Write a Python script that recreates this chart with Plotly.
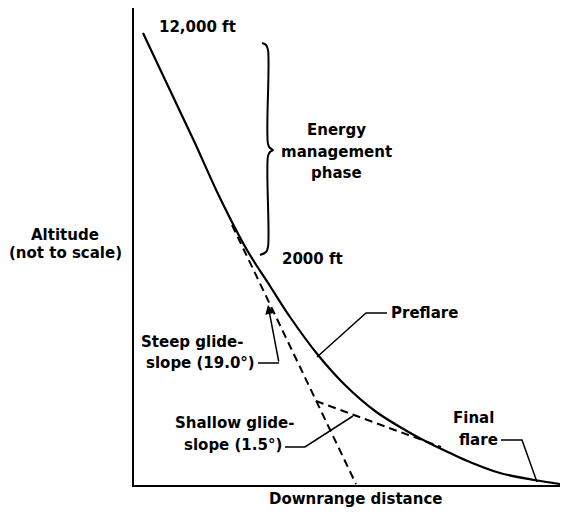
import plotly.graph_objects as go

# Trajectory (arbitrary downrange / altitude units, not to scale)
traj_x = [9, 34, 60, 86, 113, 136, 156, 184, 211, 241, 271, 293, 316, 336, 366, 400, 433]
traj_y = [452, 399, 344, 287, 235, 199, 168, 130, 100, 74, 55, 43, 32, 23, 12, 5, 0]

# Steep glideslope (19.0 deg) and shallow glideslope (1.5 deg)
steep_x = [98, 222]
steep_y = [260, 1]
shallow_x = [182, 307]
shallow_y = [84, 38]

# Energy management brace (from 12,000 ft to 2000 ft)
brace_x = [128, 132, 134, 134, 136, 139, 136, 134, 134, 132, 126]
brace_y = [442, 440, 435, 341, 337, 335, 333, 329, 238, 233, 230]

# Leader lines
preflare_x = [183, 232, 253]
preflare_y = [128, 172, 172]
final_x = [367, 388, 403]
final_y = [45, 45, 3]
shallow_lead_x = [151, 171, 219]
shallow_lead_y = [38, 38, 69]
steep_lead_x = [124, 145, 134]
steep_lead_y = [122, 122, 180]

X_MAX = 433
Y_MAX = 477

FONT = dict(family="DejaVu Sans", size=15, color="black", weight="bold")

fig = go.Figure()

def line(x, y, width=1.5, dash="solid", shape="linear"):
    fig.add_trace(go.Scatter(x=x, y=y, mode="lines", cliponaxis=False,
                             line=dict(color="black", width=width, dash=dash, shape=shape),
                             hoverinfo="skip", showlegend=False))

line(traj_x, traj_y, width=2.2, shape="spline")
line(steep_x, steep_y, width=2, dash="8px,5px")
line(shallow_x, shallow_y, width=2, dash="8px,5px")
line(brace_x, brace_y, width=2, shape="spline")
line(preflare_x, preflare_y)
line(final_x, final_y)
line(shallow_lead_x, shallow_lead_y)
line(steep_lead_x[:2], steep_lead_y[:2])

# arrow on steep glideslope leader
fig.add_annotation(x=steep_lead_x[2], y=steep_lead_y[2], ax=steep_lead_x[1], ay=steep_lead_y[1],
                   xref="x", yref="y", axref="x", ayref="y", text="", showarrow=True,
                   arrowhead=2, arrowsize=1.2, arrowwidth=1.5, arrowcolor="black")

labels = [
    ("12,000 ft", 23, 458, "left"),
    ("Energy", 202, 355, "center"),
    ("management", 202, 333, "center"),
    ("phase", 202, 312, "center"),
    ("2000 ft", 146, 226, "left"),
    ("Altitude", -69, 250, "center"),
    ("(not to scale)", -69, 232, "center"),
    ("Preflare", 255, 172, "left"),
    ("Final", 339, 67, "center"),
    ("flare", 366, 45, "right"),
    ("Steep glide-", 58, 143, "center"),
    ("slope (19.0°)", 123, 122, "right"),
    ("Shallow glide-", 100, 62, "center"),
    ("slope (1.5°)", 150, 40, "right"),
    ("Downrange distance", 221, -14, "center"),
]
for text, x, y, anchor in labels:
    fig.add_annotation(x=x / X_MAX, y=y / Y_MAX, xref="paper", yref="paper", text=text,
                       showarrow=False, xanchor=anchor, yanchor="middle", font=FONT)

fig.update_layout(
    width=560, height=513,
    margin=dict(l=126, r=1, t=0, b=36),
    paper_bgcolor="white", plot_bgcolor="white",
    xaxis=dict(range=[0, X_MAX], showgrid=False, zeroline=False, showticklabels=False,
               ticks="", showline=True, linecolor="black", linewidth=1.5),
    yaxis=dict(range=[0, Y_MAX], showgrid=False, zeroline=False, showticklabels=False,
               ticks="", showline=True, linecolor="black", linewidth=1.5),
)

fig.write_html("out.html")
